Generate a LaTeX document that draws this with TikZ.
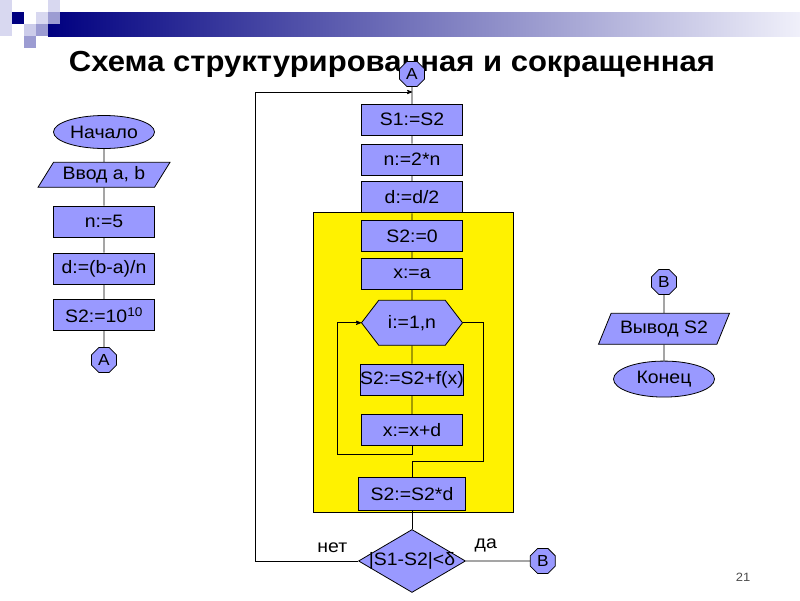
\documentclass[tikz,border=0pt]{standalone}
\usepackage{fontspec}
\setmainfont{Liberation Sans}[FakeStretch=1.08]
\newfontfamily\headfont{Liberation Sans}[FakeStretch=1.07]
\usetikzlibrary{shapes.geometric, shapes.symbols, positioning, arrows}
\definecolor{boxblue}{RGB}{153,153,255}
\definecolor{navy}{RGB}{0,0,128}
\definecolor{lav}{RGB}{216,216,240}
\definecolor{midlav}{RGB}{156,156,210}
\definecolor{barend}{RGB}{240,240,250}
\tikzset{node distance=15pt, % default gap between blocks
every node/.style={font=\fontsize{18}{20}\selectfont},
blk/.style={ % operator block
draw, fill=boxblue, minimum width=101pt, minimum height=31pt, inner sep=0pt},
term/.style={ % start / end
ellipse, draw, fill=boxblue, minimum width=101pt, minimum height=33pt, inner sep=0pt},
io/.style={ % input / output
trapezium, draw, fill=boxblue, trapezium stretches body, inner sep=0pt},
conn/.style={ % page connector
regular polygon, regular polygon sides=8, draw, fill=boxblue,
minimum size=27pt, inner sep=0pt, font=\fontsize{16}{18}\selectfont},
cyc/.style={ % loop header
signal, signal to=west and east, signal pointer angle=105, draw, fill=boxblue,
minimum width=101pt, minimum height=45pt, inner sep=0pt},
decision/.style={diamond, draw, fill=boxblue, minimum width=107pt, minimum height=63pt, inner sep=0pt},
lbl/.style={above=8pt, inner sep=0pt},
>=stealth'}

\begin{document}
\begin{tikzpicture}[x=1pt, y=-1pt, line width=0.8pt]
    \useasboundingbox (0,0) rectangle (800,600);
    \fill[white] (0,0) rectangle (800,600);

    % header bar
    \shade[left color=navy, right color=barend] (48,12) rectangle (800,36);
    \fill[lav] (0,0) rectangle (12,36);
    \fill[navy] (12,12) rectangle (24,24);
    \fill[lav] (48,0) rectangle (60,12);
    \fill[lav] (36,12) rectangle (48,24);
    \fill[midlav] (48,12) rectangle (60,24);
    \fill[lav!80!midlav] (24,24) rectangle (36,36);
    \fill[midlav] (36,24) rectangle (48,36);
    \fill[midlav] (24,36) rectangle (36,48);

    \node[font=\headfont\bfseries\fontsize{29}{32}\selectfont, anchor=base] (title) at (392,71) {Схема структурированная и сокращенная};

    \filldraw[fill=yellow] (313,212) rectangle (513,512);

    % left part
    \node[term] (start) at (104,132) {Начало};
    \node[io, trapezium left angle=47, trapezium right angle=133, minimum width=132pt, minimum height=25pt, below=13pt of start] (inp) {Ввод a, b};
    \node[blk, below=18pt of inp] (nfive) {n:=5};
    \node[blk, below=of nfive] (dstep) {d:=(b-a)/n};
    \node[blk, below=of dstep] (sbig) {S2:=10\textsuperscript{10}};
    \node[conn, below=16pt of sbig] (Aout) {A};

    \draw (start) -- (inp) -- (nfive) -- (dstep) -- (sbig) -- (Aout);

    % middle part
    \node[conn] (Ain) at (412,74) {A};
    \node[blk, below=17pt of Ain] (sone) {S1:=S2};
    \node[blk, below=8pt of sone] (ndbl) {n:=2*n};
    \node[blk, below=6pt of ndbl] (dhalf) {d:=d/2};
    \node[blk, below=7pt of dhalf] (szero) {S2:=0};
    \node[blk, below=6pt of szero] (xa) {x:=a};
    \node[cyc, below=10pt of xa] (loop) {i:=1,n};
    \node[blk, below=18pt of loop] (sum) {S2:=S2+f(x)};
    \node[blk, below=19pt of sum] (xstep) {x:=x+d};
    \node[blk, minimum width=107pt, minimum height=33pt, below=31pt of xstep] (smul) {S2:=S2*d};
    \node[decision, below=18pt of smul] (test) {\makebox[0pt]{|S1-S2|<δ}};
    \node[conn, right=64pt of test] (Bout) {B};

    \draw (Ain) -- (sone) -- (ndbl) -- (dhalf) -- (szero) -- (xa) -- (loop) -- (sum) -- (xstep);
    \draw (smul) -- (test);

    \coordinate (lpbot) at (337,454);
    \coordinate (lpexit) at (483,461);
    \draw[->] (xstep) -- (xstep.south |- lpbot) -- (lpbot) |- (loop.west);
    \draw (loop.east) -| (lpexit) -- (lpexit -| smul.north) -- (smul);

    \coordinate (back) at (255,92);
    \draw[->] (test.west) -- node[lbl, pos=.25] {нет} (test.west -| back) -- (back) -- (back -| sone.north);
    \draw (test.east) -- node[lbl, pos=.31] {да} (Bout);

    % right part
    \node[conn] (Bin) at (664,282) {B};
    \node[io, trapezium left angle=52, trapezium right angle=128, minimum width=131pt, minimum height=31pt, below=18pt of Bin] (outp) {Вывод S2};
    \node[term, minimum height=36pt, below=16pt of outp] (stop) {Конец};

    \draw (Bin) -- (outp) -- (stop);

    \node[font=\fontsize{12}{14}\selectfont, text=gray!60!black] (page) at (743,577) {21};

\end{tikzpicture}
\end{document}
